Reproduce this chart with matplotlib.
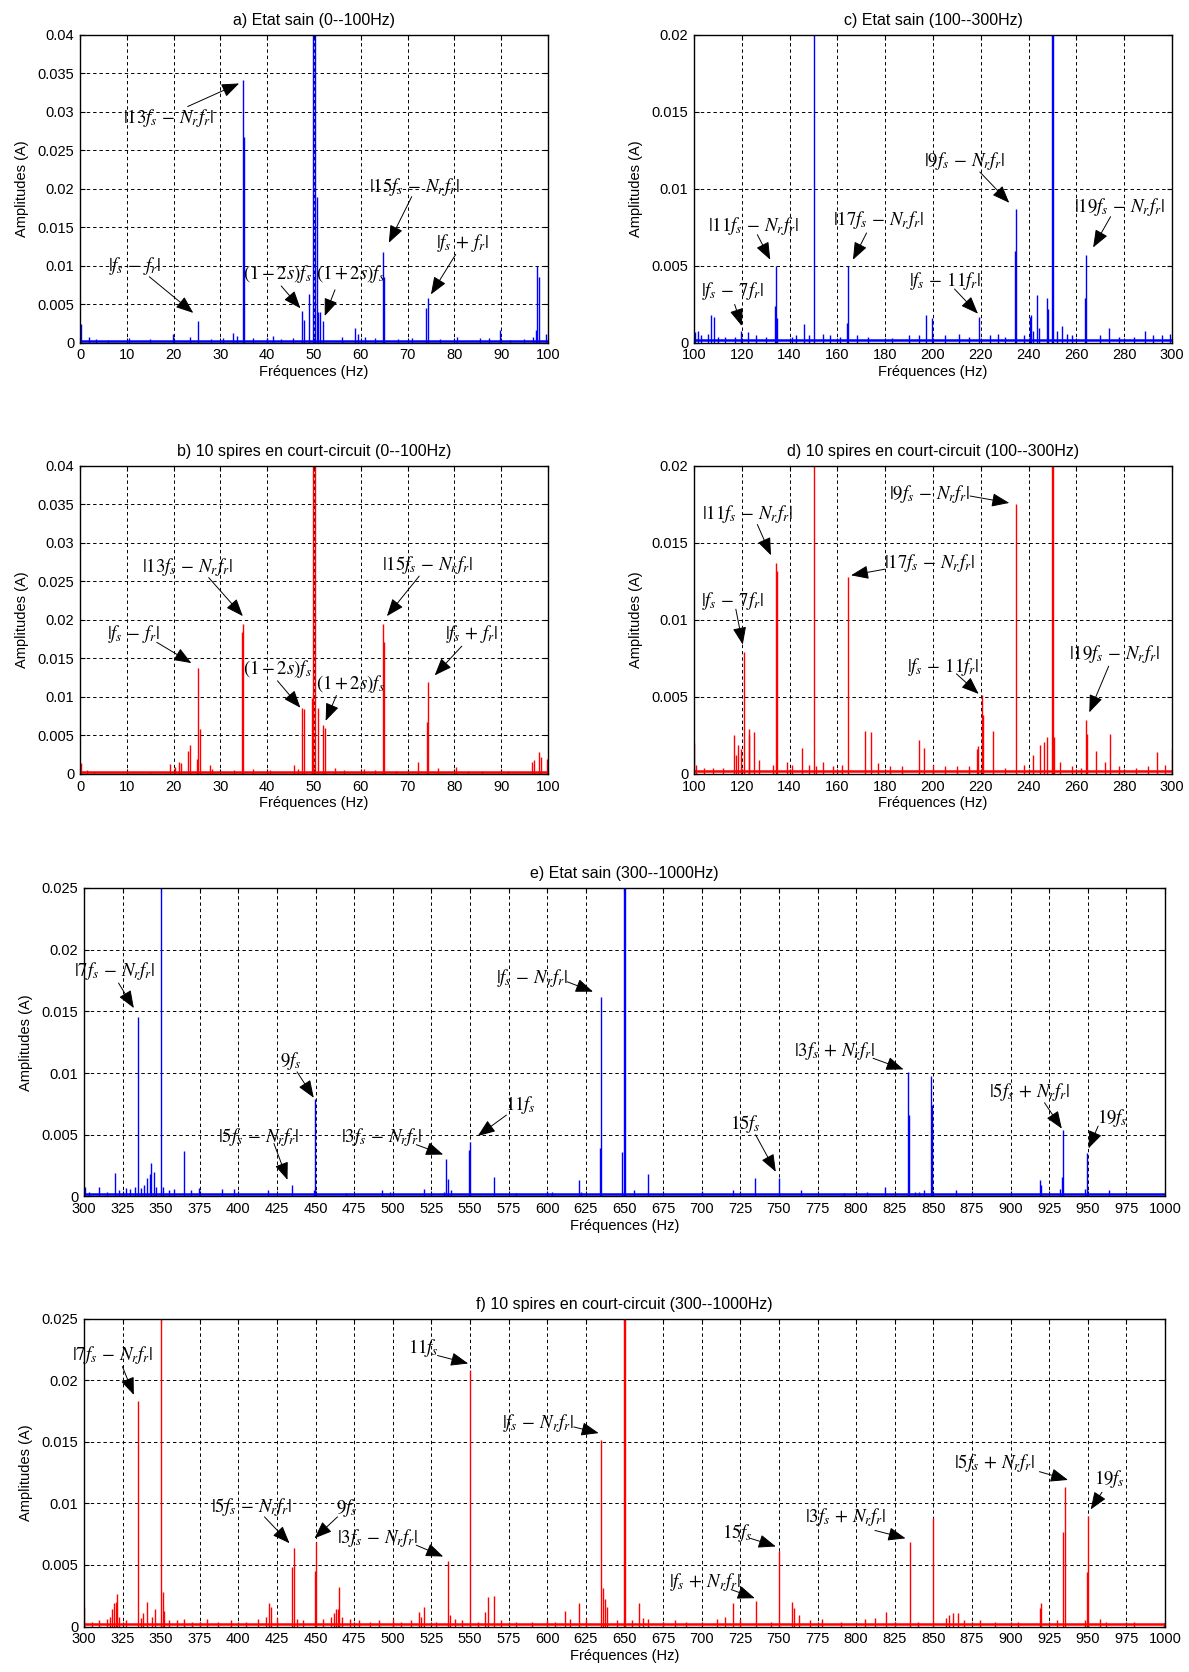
import matplotlib
matplotlib.use("Agg")
import matplotlib.pyplot as plt
import numpy as np

plt.rcParams['font.family'] = ['Liberation Sans', 'DejaVu Sans']
plt.rcParams['mathtext.fontset'] = 'stix'

# ---------------- DATA ----------------
# a) healthy 0-100 Hz
a_freq = [49.7, 50.3, 50.7, 49.0, 51.3, 34.75, 35.0, 25.3, 47.5, 47.8, 52.0, 50.9,
          64.75, 65.0, 74.3, 74.0, 97.7, 98.0, 97.4,
          0.3, 2, 3.5, 6, 10.5, 15, 19.8, 23.5, 28, 30.5, 32.8, 33.5, 37, 40, 41.2, 43, 45.5,
          56, 58.7, 59.5, 61, 63, 68, 71, 77, 80.5, 85.5, 87.5, 89.7, 92, 95, 96.8, 99.7]
a_amp = [0.5, 0.3, 0.019, 0.0063, 0.004, 0.0342, 0.0267, 0.0028, 0.0041, 0.003, 0.0028, 0.004,
         0.0118, 0.0086, 0.0058, 0.0045, 0.00995, 0.0086, 0.0017,
         0.0025, 0.0008, 0.0005, 0.0004, 0.0007, 0.0005, 0.0012, 0.0008, 0.0005, 0.0006, 0.0013, 0.0009,
         0.0006, 0.0006, 0.0009, 0.0005, 0.0006, 0.0008, 0.002, 0.0011, 0.0008, 0.0006, 0.0005, 0.0006,
         0.0005, 0.0008, 0.0007, 0.0006, 0.0017, 0.0004, 0.0005, 0.0008, 0.0012]

# b) 10 shorted turns 0-100 Hz
b_freq = [49.7, 50.3, 49.5, 50.9, 34.9, 34.6, 25.3, 25.6, 25.0, 47.5, 47.9, 52.0, 52.3,
          64.75, 65.0, 74.4, 74.1,
          0.2, 1.5, 3, 10, 15, 19.3, 20.2, 21.2, 21.6, 23.0, 23.4, 27.7, 28.2, 33, 37, 40.5, 45.8, 46.5,
          54.5, 56.5, 60.8, 63, 67.5, 72.2, 76.6, 80.3, 83, 86, 91.5, 96.5, 97, 98.2, 98.6, 99.8]
b_amp = [0.5, 0.3, 0.0099, 0.0086, 0.0195, 0.0185, 0.0138, 0.0058, 0.002, 0.0086, 0.0085, 0.0064, 0.006,
         0.0195, 0.0171, 0.0119, 0.0067,
         0.0014, 0.0005, 0.0003, 0.0003, 0.0003, 0.0013, 0.0009, 0.0015, 0.0014, 0.003, 0.0037, 0.0012,
         0.0007, 0.0005, 0.0006, 0.0005, 0.0011, 0.0006, 0.0008, 0.0005, 0.0006, 0.0005, 0.0004, 0.0015,
         0.0008, 0.0009, 0.0004, 0.0004, 0.0004, 0.0016, 0.0018, 0.0028, 0.0022, 0.0019]

# c) healthy 100-300 Hz
c_freq = [150.0, 249.7, 250.2, 134.5, 134.0, 134.9, 107.0, 119.6, 164.6, 164.1, 197.0, 219.3,
          234.6, 234.2, 264.0, 263.6,
          100.5, 101.5, 103, 106, 108.5, 110, 113, 117, 122.7, 126, 130, 141, 142.5, 146, 148, 154,
          157, 161, 168, 173, 183, 190, 194, 199.5, 205, 211, 215, 224, 227, 230, 238, 240.5, 241,
          242, 243.5, 244.5, 247.5, 248, 252, 254, 256, 258, 270, 273.5, 278, 284, 288.5, 292, 296, 299]
c_amp = [0.05, 0.05, 0.05, 0.00497, 0.0024, 0.0016, 0.0018, 0.0008, 0.005, 0.0013, 0.0018, 0.0017,
         0.0087, 0.006, 0.0057, 0.0029,
         0.0007, 0.0008, 0.0005, 0.0006, 0.0017, 0.0004, 0.0004, 0.0004, 0.0007, 0.0005, 0.0004,
         0.0004, 0.0005, 0.0012, 0.0005, 0.0006, 0.0005, 0.0004, 0.0005, 0.0004, 0.0003, 0.0005,
         0.0005, 0.0016, 0.0005, 0.0006, 0.0004, 0.0005, 0.0006, 0.0004, 0.0005, 0.0017, 0.0018,
         0.0008, 0.0031, 0.001, 0.0029, 0.0022, 0.0008, 0.0011, 0.0006, 0.0005, 0.0005, 0.001,
         0.0004, 0.0004, 0.0008, 0.0005, 0.0005, 0.0006]

# d) 10 shorted turns 100-300 Hz
d_freq = [150.0, 249.7, 250.2, 120.75, 134.5, 134.9, 164.6, 234.6, 220.4, 220.9, 264.0, 264.5,
          100, 101, 104, 108, 112, 116.8, 117.5, 118.6, 119.6, 122.9, 123.2, 125.3, 127, 133, 139,
          141, 145.3, 148, 151, 154, 158, 162, 171.4, 173.9, 177, 182, 187, 194, 196.2, 200, 205,
          210, 215, 218.5, 219, 225.3, 230, 238, 242, 244.8, 246.5, 247.8, 250.6, 253, 258, 262,
          268, 272, 274, 278, 285, 290, 293.8, 297, 299.8]
d_amp = [0.05, 0.05, 0.05, 0.0079, 0.0137, 0.0132, 0.0128, 0.01756, 0.0051, 0.00385, 0.0035, 0.0026,
         0.002, 0.0006, 0.0004, 0.0004, 0.0004, 0.0025, 0.0012, 0.0019, 0.0016, 0.0025, 0.0029,
         0.0027, 0.0009, 0.0006, 0.0008, 0.0006, 0.0017, 0.0006, 0.0005, 0.0008, 0.0005, 0.0006,
         0.0028, 0.0027, 0.0007, 0.0005, 0.0005, 0.0022, 0.0017, 0.0006, 0.0005, 0.0005, 0.0005,
         0.0016, 0.0018, 0.0028, 0.0004, 0.0006, 0.0012, 0.0019, 0.0021, 0.0024, 0.0024, 0.0008,
         0.0005, 0.0004, 0.0015, 0.0008, 0.0026, 0.0005, 0.0004, 0.0005, 0.0014, 0.0006, 0.0016]

# e) healthy 300-1000 Hz
e_freq = [334.8, 349.8, 449.8, 534.6, 550.0, 634.9, 649.6, 650.2, 833.7, 848.8, 933.9, 949.3,
          300.5, 303, 310, 315, 320, 323, 327, 330, 333, 337, 339, 341, 342.5, 343.5, 345.3, 346.5,
          351.5, 355, 358, 364.7, 369, 374.6, 389.5, 397, 419.4, 434.8, 449, 470, 493, 498, 520,
          533, 535.5, 538, 549.3, 565.5, 580, 600, 603, 620.4, 622, 633.9, 648.2, 656, 665.3, 700,
          720, 734.4, 749.8, 764.6, 792, 807, 818.9, 834.2, 838, 841, 844, 849.3, 865, 918.9, 920,
          932, 933.2, 948, 964]
e_amp = [0.01454, 0.05, 0.0079, 0.003, 0.0044, 0.01616, 0.05, 0.05, 0.0101, 0.0098, 0.00535, 0.0035,
         0.0008, 0.0004, 0.0008, 0.0004, 0.0019, 0.0005, 0.0007, 0.0006, 0.0008, 0.0007, 0.0009,
         0.0015, 0.0018, 0.0027, 0.002, 0.0008, 0.0008, 0.0005, 0.0006, 0.0037, 0.0005, 0.0007,
         0.0006, 0.0006, 0.0005, 0.00095, 0.0005, 0.0003, 0.0005, 0.0004, 0.0006, 0.0004, 0.0014,
         0.0005, 0.0038, 0.0016, 0.0003, 0.0004, 0.0004, 0.0013, 0.0004, 0.0039, 0.0036, 0.0005,
         0.0018, 0.0004, 0.0005, 0.0015, 0.0015, 0.0005, 0.0003, 0.0004, 0.0008, 0.0066, 0.0004,
         0.0004, 0.0005, 0.0074, 0.0005, 0.0013, 0.0009, 0.0006, 0.0016, 0.0006, 0.0005]

# f) 10 shorted turns 300-1000 Hz
f_freq = [334.8, 349.8, 435.8, 450.5, 535.6, 550.0, 634.9, 649.6, 650.2, 750.0, 735.2, 834.7, 849.5,
          935.0, 950.0,
          300.3, 305, 310, 315, 317, 318, 319.5, 320.5, 321.4, 323, 327, 337, 338, 341, 344, 346,
          351, 352, 355, 360, 365, 370, 375, 380, 387, 395, 405, 413, 418, 420, 421, 425, 434.8,
          438, 442, 449.3, 455, 460, 462, 463.5, 464.4, 465.4, 467, 472, 478, 485, 491, 500, 505,
          512, 517, 518, 520.1, 528, 537, 540, 545, 555, 560, 561.7, 565.7, 570, 580, 590, 600,
          605, 611.4, 615, 620.4, 625, 635.8, 637.5, 639, 645, 655, 659.6, 662, 665, 675, 683, 690,
          710, 715, 720.4, 725, 745, 758.6, 759.5, 763, 770, 778, 790, 806, 812, 819.1, 825, 840,
          858, 860, 863, 866, 870, 880, 890, 905, 918.8, 919.6, 930, 933.9, 948, 949.2, 958, 962,
          980, 999.5]
f_amp = [0.01827, 0.05, 0.00635, 0.0069, 0.00535, 0.0208, 0.01513, 0.05, 0.05, 0.0061, 0.0021,
         0.0069, 0.0088, 0.01135, 0.009,
         0.0016, 0.0004, 0.0005, 0.0006, 0.0008, 0.0014, 0.0019, 0.002, 0.0026, 0.0008, 0.0005,
         0.0007, 0.0011, 0.002, 0.0008, 0.0014, 0.0028, 0.0013, 0.0005, 0.0005, 0.0006, 0.0004,
         0.0004, 0.0006, 0.0004, 0.0005, 0.0004, 0.0006, 0.0008, 0.0019, 0.0016, 0.0007, 0.0048,
         0.0006, 0.0005, 0.0045, 0.0006, 0.0008, 0.0011, 0.0014, 0.0014, 0.0032, 0.0008, 0.0006,
         0.0005, 0.0004, 0.0005, 0.0006, 0.0004, 0.0005, 0.0012, 0.0008, 0.0016, 0.0004, 0.0009,
         0.0006, 0.0005, 0.0004, 0.0012, 0.0024, 0.0025, 0.0005, 0.0004, 0.0004, 0.0005, 0.0004,
         0.0013, 0.0006, 0.0019, 0.0006, 0.0031, 0.0022, 0.0016, 0.0005, 0.0005, 0.0019, 0.0007,
         0.0006, 0.0004, 0.0005, 0.0004, 0.0006, 0.0008, 0.0019, 0.0006, 0.0004, 0.002, 0.0015,
         0.0009, 0.0005, 0.0006, 0.0004, 0.0006, 0.0007, 0.0012, 0.0004, 0.0004, 0.0007, 0.0009,
         0.0011, 0.0011, 0.0005, 0.0005, 0.0004, 0.0004, 0.0015, 0.0019, 0.0005, 0.0077, 0.0005,
         0.0044, 0.0006, 0.0004, 0.0004, 0.0003]

titles = ['a) Etat sain (0--100Hz)', 'b) 10 spires en court-circuit (0--100Hz)',
          'c) Etat sain (100--300Hz)', 'd) 10 spires en court-circuit (100--300Hz)',
          'e) Etat sain (300--1000Hz)', 'f) 10 spires en court-circuit (300--1000Hz)']

# annotations: (label, text x, text y, arrow start x, y, arrow tip x, y)
L13 = r'$|13f_s\,-\,N_r f_r|$'
L15 = r'$|15f_s\,-\,N_r f_r|$'
L11 = r'$|11f_s\,-\,N_r f_r|$'
L17 = r'$|17f_s\,-\,N_r f_r|$'
L9 = r'$|9f_s\,-\,N_r f_r|$'
L19 = r'$|19f_s\,-\,N_r f_r|$'
L7 = r'$|7f_s\,-\,N_r f_r|$'
L5 = r'$|5f_s\,-\,N_r f_r|$'
L3 = r'$|3f_s\,-\,N_r f_r|$'
L1 = r'$|f_s\,-\,N_r f_r|$'
L3p = r'$|3f_s\,+\,N_r f_r|$'
L5p = r'$|5f_s\,+\,N_r f_r|$'
L1p = r'$|f_s\,+\,N_r f_r|$'
Lfm = r'$|f_s\,-\,f_r|$'
Lfp = r'$|f_s\,+\,f_r|$'
Lm2 = r'$(1-2s)f_s$'
Lp2 = r'$(1+2s)f_s$'
L7r = r'$|f_s\,-\,7f_r|$'
L11r = r'$|f_s\,-\,11f_r|$'

ann_a = [(L13, 18.9, 0.0292, 23, 0.0307, 34, 0.0337),
         (Lfm, 11.6, 0.00995, 14.8, 0.0086, 24.2, 0.0039),
         (Lm2, 42.2, 0.0089, 43, 0.0074, 47.1, 0.0045),
         (Lp2, 57.7, 0.0089, 54.5, 0.0069, 52.3, 0.0035),
         (L15, 71.5, 0.0203, 70.9, 0.019, 66, 0.013),
         (Lfp, 81.7, 0.013, 80.3, 0.0115, 75, 0.0063)]
ann_b = [(L13, 22.9, 0.0269, 27.5, 0.0255, 34.8, 0.0205),
         (Lfm, 11.4, 0.0182, 16.4, 0.0171, 23.8, 0.0144),
         (Lm2, 42.1, 0.0136, 42.2, 0.0121, 47.1, 0.0086),
         (Lp2, 57.7, 0.0117, 54.8, 0.0102, 52.5, 0.0069),
         (L15, 74.3, 0.0272, 72.5, 0.0257, 65.6, 0.0205),
         (Lfp, 83.8, 0.0182, 81.6, 0.0166, 75.8, 0.0128)]
ann_c = [(L11, 125, 0.00757, 126.5, 0.00703, 131.9, 0.0054),
         (L7r, 116, 0.00335, 117, 0.0025, 120, 0.0011),
         (L17, 177, 0.008, 172.2, 0.00714, 166.5, 0.0054),
         (L11r, 205.2, 0.004, 209, 0.0035, 218.8, 0.0019),
         (L9, 213.4, 0.0118, 219.6, 0.0111, 231.9, 0.0091),
         (L19, 277.8, 0.0088, 274.3, 0.0082, 267, 0.0062)]
ann_d = [(L11, 122.2, 0.0169, 126.5, 0.0162, 132.2, 0.0142),
         (L7r, 116, 0.01124, 117.5, 0.0107, 120.4, 0.0084),
         (L9, 198.5, 0.0182, 215.5, 0.01805, 231.9, 0.0176),
         (L17, 198.4, 0.01373, 179.9, 0.0133, 165.7, 0.0129),
         (L11r, 204.2, 0.00696, 209.8, 0.0065, 219.1, 0.0052),
         (L19, 276, 0.00778, 273.5, 0.0070, 265.4, 0.004)]
ann_e = [(L7, 320.1, 0.01824, 322.4, 0.0173, 332.3, 0.01527),
         (r'$9f_s$', 433.6, 0.01095, 438, 0.0101, 448.8, 0.008),
         (L5, 413.2, 0.00486, 423, 0.0043, 431.8, 0.00135),
         (L3, 493, 0.00486, 515.2, 0.0042, 532.6, 0.0034),
         (r'$11f_s$', 582.3, 0.0074, 573.6, 0.0066, 555, 0.0049),
         (L1, 589.8, 0.0177, 612.9, 0.0174, 629.6, 0.0166),
         (r'$15f_s$', 728, 0.0059, 734.9, 0.005, 748, 0.002),
         (L3p, 785.8, 0.01176, 811, 0.0112, 830.7, 0.0103),
         (L5p, 912.7, 0.0085, 922, 0.0076, 933.2, 0.0055),
         (r'$19f_s$', 965.8, 0.00635, 956.7, 0.0057, 950.5, 0.0039)]
ann_f = [(L7, 318.4, 0.022, 324.9, 0.0211, 332.3, 0.0188),
         (r'$11f_s$', 519.9, 0.02257, 528.9, 0.022, 548.8, 0.02135),
         (L1, 593.8, 0.0165, 617.2, 0.0162, 633.3, 0.0157),
         (L5, 408.5, 0.00973, 416.9, 0.0089, 433.1, 0.00676),
         (r'$9f_s$', 470.1, 0.0096, 464.2, 0.0089, 449.3, 0.00716),
         (L3, 490.5, 0.00716, 515.2, 0.0066, 532.6, 0.00568),
         (L1p, 702.3, 0.00365, 719.1, 0.003, 734.4, 0.0023),
         (r'$15f_s$', 723, 0.00762, 731.5, 0.00716, 748, 0.0065),
         (L3p, 793.5, 0.00892, 812.2, 0.0078, 832, 0.00716),
         (L5p, 889.8, 0.0133, 918.7, 0.01257, 937.2, 0.0119),
         (r'$19f_s$', 964.3, 0.012, 959.2, 0.0109, 951.9, 0.0095)]

# ---------------- FIGURE ----------------
fig = plt.figure(figsize=(11.89, 16.72), dpi=100)

W_small = 0.3935
W_right = 0.402
W_wide = 0.9092
panels = [
    ([0.0673, 0.7949, W_small, 0.1842], a_freq, a_amp, 'blue', (0, 100), 10, (0, 0.04), 0.005, ann_a, titles[0]),
    ([0.0673, 0.5371, W_small, 0.1842], b_freq, b_amp, 'red', (0, 100), 10, (0, 0.04), 0.005, ann_b, titles[1]),
    ([0.5837, 0.7949, W_right, 0.1842], c_freq, c_amp, 'blue', (100, 300), 20, (0, 0.02), 0.005, ann_c, titles[2]),
    ([0.5837, 0.5371, W_right, 0.1842], d_freq, d_amp, 'red', (100, 300), 20, (0, 0.02), 0.005, ann_d, titles[3]),
    ([0.0706, 0.2844, W_wide, 0.1845], e_freq, e_amp, 'blue', (300, 1000), 25, (0, 0.025), 0.005, ann_e, titles[4]),
    ([0.0706, 0.0272, W_wide, 0.1842], f_freq, f_amp, 'red', (300, 1000), 25, (0, 0.025), 0.005, ann_f, titles[5]),
]


def fmt(v):
    s = ('%.3f' % v).rstrip('0').rstrip('.')
    return s if s else '0'


for pos, fr, am, col, xl, xs, yl, ys, anns, title in panels:
    ax = fig.add_axes(pos)
    ax.set_xlim(*xl)
    ax.set_ylim(*yl)
    ax.plot(list(xl), [0.00022, 0.00022], color=col, lw=1.8, zorder=2, clip_on=True)
    ax.vlines(fr, 0, am, colors=col, lw=1.0, zorder=2)
    xt = np.arange(xl[0], xl[1] + 0.5 * xs, xs)
    yt = np.arange(yl[0], yl[1] + 0.5 * ys, ys)
    ax.set_xticks(xt)
    ax.set_yticks(yt)
    ax.set_xticklabels([str(int(round(v))) for v in xt])
    ax.set_yticklabels([fmt(v) for v in yt])
    ax.grid(True, color='black', linestyle=(0, (3.5, 3)), linewidth=0.7)
    ax.tick_params(direction='in', length=3.5, width=0.8, labelsize=10.5, pad=4,
                   top=True, right=True)
    for sp in ax.spines.values():
        sp.set_linewidth(1.0)
    ax.set_title(title, fontsize=11.5, pad=7)
    ax.set_xlabel('Fréquences (Hz)', fontsize=10.5, labelpad=2)
    ax.set_ylabel('Amplitudes (A)', fontsize=10.5, labelpad=6)
    for lab, tx, ty, sx, sy, hx, hy in anns:
        ax.text(tx, ty, lab, ha='center', va='center', fontsize=13.5, zorder=5)
        ax.annotate('', xy=(hx, hy), xytext=(sx, sy),
                    arrowprops=dict(arrowstyle='-|>,head_length=0.9,head_width=0.35',
                                    color='black', lw=0.7, shrinkA=0, shrinkB=0,
                                    mutation_scale=12), zorder=5)

fig.savefig('out.png', dpi=100)
